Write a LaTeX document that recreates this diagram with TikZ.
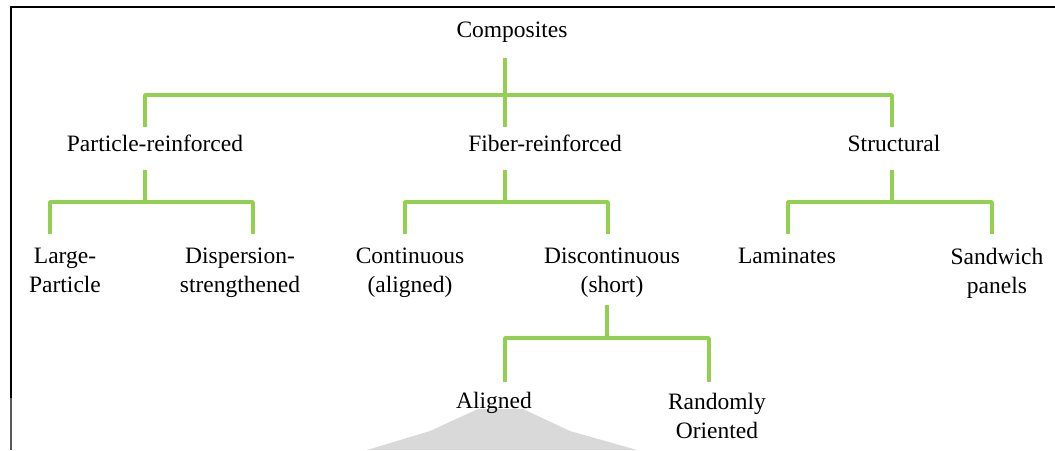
\documentclass[tikz,border=0pt]{standalone}
\usepackage{fontspec}
\setmainfont{Liberation Serif}
\usetikzlibrary{calc}

\definecolor{branchgreen}{RGB}{146,208,80}

\begin{document}
\begin{tikzpicture}[x=1pt, y=-1pt,
            every node/.style={align=center, inner sep=0pt, anchor=north,
              font=\fontsize{23.5}{29}\selectfont, execute at begin node=\strut},
            twoline/.style={yshift=-5pt},
            branch/.style={draw=branchgreen, line width=3.5pt, line join=round}]
        \useasboundingbox (0,0) rectangle (1055,450);
        % grey patch and frame
        \fill[gray!30] (367,450) -- (430,431) -- (478,409) -- (523,409) -- (570,431) -- (637,450) -- cycle;
        \draw[line width=2.7pt] (1055,7) -- (11,7) -- (11,398);
        \draw[line width=2.7pt, gray!70!black] (11,398) -- (11,450);

        % labels
        \node (comp) at (512,16.7) {Composites};
        \node (part) at (155,130.7) {Particle-reinforced};
        \node (fiber) at (545,130.7) {Fiber-reinforced};
        \node (struct) at (894,130.7) {Structural};
        \node[twoline] (large) at (65,242.7) {Large-\\Particle};
        \node[twoline] (disp) at (240,242.7) {Dispersion-\\strengthened};
        \node[twoline] (cont) at (410,242.7) {Continuous\\(aligned)};
        \node[twoline] (disc) at (612,242.7) {Discontinuous\\(short)};
        \node (lam) at (787,242.7) {Laminates};
        \node[twoline] (sand) at (997,242.7) {Sandwich\\panels};
        \node (alig) at (494,387.7) {Aligned};
        \node[twoline] (rand) at (717,387.7) {Randomly\\Oriented};

        % branch ends
        \foreach \n/\x/\y in {comp-b/505/58, part-t/145/127, fiber-t/505/127, struct-t/892/127,
                              part-b/145/170, fiber-b/505/170, struct-b/892/170,
                              large-t/50/234, disp-t/253/234, cont-t/405/234, disc-t/608/234,
                              lam-t/788/234, sand-t/992/234,
                              disc-b/607/305, alig-t/505/382, rand-t/709/382}
            \coordinate (\n) at (\x,\y);

        \foreach \p/\l/\r/\h in {comp/part/struct/37, part/large/disp/32, fiber/cont/disc/32,
                                 struct/lam/sand/32, disc/alig/rand/33}
        {
            \draw[branch] (\p-b) -- ++(0,\h) coordinate (\p-j);
            \draw[branch] (\l-t) |- (\p-j) -| (\r-t);
        }
        \draw[branch] (comp-j) -- (fiber-t);
\end{tikzpicture}
\end{document}
